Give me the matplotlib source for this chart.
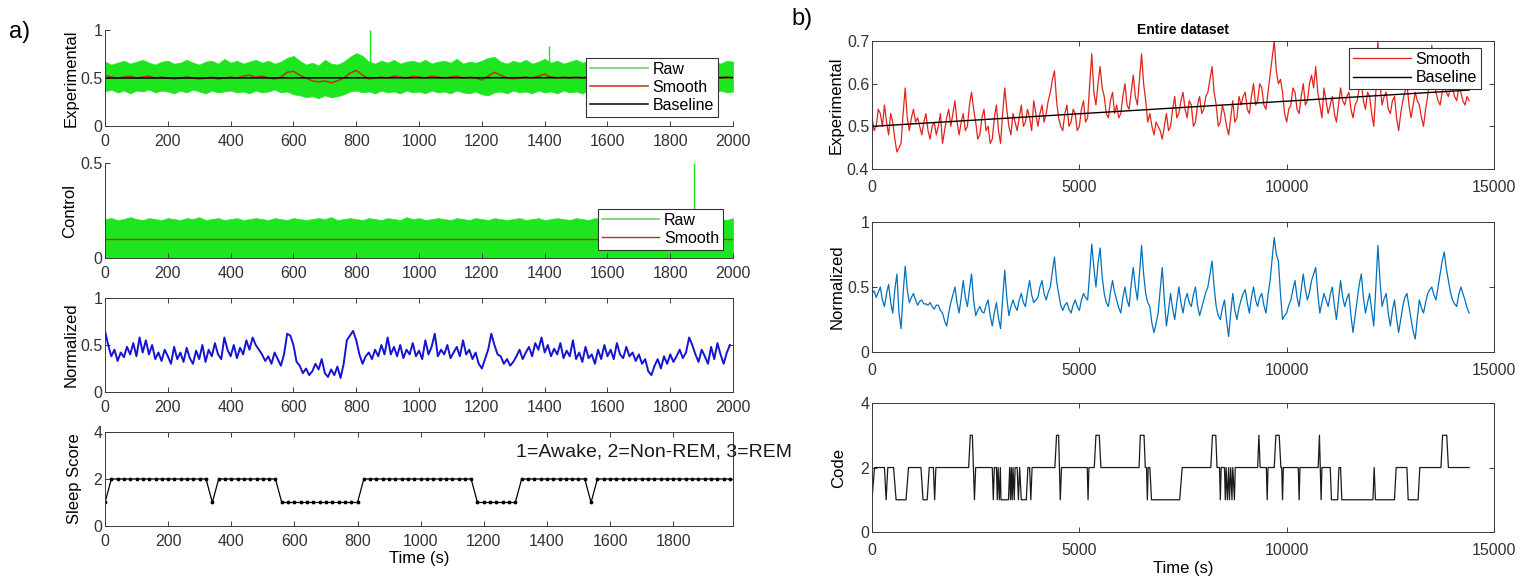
import numpy as np
import matplotlib.pyplot as plt

plt.rcParams['font.family'] = ['Liberation Sans', 'DejaVu Sans']
plt.rcParams['font.size'] = 11.5

# ---------------- panel a: 2000 s window ----------------
a_t = np.arange(0, 2001, 20)          # envelope / smooth sample times (s)

exp_raw_hi = [
    0.67, 0.64, 0.66, 0.68, 0.65, 0.67, 0.69, 0.66, 0.64, 0.67,
    0.68, 0.65, 0.66, 0.69, 0.66, 0.64, 0.67, 0.68, 0.65, 0.70,
    0.66, 0.68, 0.65, 0.67, 0.69, 0.66, 0.68, 0.65, 0.67, 0.71,
    0.73, 0.68, 0.64, 0.66, 0.63, 0.69, 0.65, 0.64, 0.67, 0.72,
    0.76, 0.73, 0.67, 0.65, 0.68, 0.66, 0.69, 0.65, 0.67, 0.68,
    0.66, 0.69, 0.65, 0.67, 0.68, 0.66, 0.70, 0.65, 0.67, 0.66,
    0.68, 0.71, 0.72, 0.67, 0.65, 0.68, 0.66, 0.69, 0.65, 0.67,
    0.70, 0.66, 0.68, 0.65, 0.67, 0.69, 0.66, 0.68, 0.65, 0.67,
    0.68, 0.66, 0.69, 0.65, 0.67, 0.68, 0.66, 0.69, 0.65, 0.67,
    0.66, 0.69, 0.67, 0.65, 0.68, 0.66, 0.69, 0.67, 0.65, 0.68,
    0.67,
]
exp_raw_lo = [
    0.36, 0.38, 0.35, 0.37, 0.34, 0.37, 0.36, 0.38, 0.35, 0.37,
    0.36, 0.34, 0.37, 0.35, 0.38, 0.36, 0.34, 0.37, 0.35, 0.36,
    0.37, 0.35, 0.36, 0.34, 0.37, 0.35, 0.36, 0.38, 0.35, 0.36,
    0.33, 0.32, 0.30, 0.31, 0.29, 0.32, 0.30, 0.31, 0.33, 0.36,
    0.37, 0.35, 0.36, 0.34, 0.37, 0.35, 0.36, 0.34, 0.37, 0.35,
    0.36, 0.34, 0.37, 0.35, 0.36, 0.34, 0.37, 0.35, 0.34, 0.36,
    0.33, 0.32, 0.35, 0.36, 0.34, 0.37, 0.35, 0.36, 0.34, 0.37,
    0.35, 0.36, 0.34, 0.37, 0.35, 0.36, 0.34, 0.37, 0.35, 0.36,
    0.34, 0.37, 0.35, 0.36, 0.34, 0.37, 0.35, 0.36, 0.34, 0.35,
    0.37, 0.35, 0.36, 0.34, 0.37, 0.35, 0.36, 0.34, 0.37, 0.35,
    0.36,
]
exp_smooth = [
    0.53, 0.51, 0.50, 0.51, 0.52, 0.50, 0.51, 0.52, 0.50, 0.51,
    0.50, 0.49, 0.50, 0.51, 0.50, 0.49, 0.50, 0.51, 0.49, 0.50,
    0.51, 0.50, 0.52, 0.53, 0.51, 0.52, 0.50, 0.49, 0.51, 0.56,
    0.57, 0.53, 0.50, 0.47, 0.46, 0.47, 0.45, 0.47, 0.50, 0.55,
    0.58, 0.53, 0.49, 0.50, 0.51, 0.50, 0.52, 0.51, 0.50, 0.52,
    0.51, 0.50, 0.52, 0.51, 0.50, 0.51, 0.52, 0.50, 0.51, 0.50,
    0.48, 0.52, 0.56, 0.53, 0.50, 0.49, 0.50, 0.51, 0.50, 0.52,
    0.54, 0.51, 0.50, 0.51, 0.50, 0.51, 0.50, 0.51, 0.50, 0.50,
    0.51, 0.50, 0.51, 0.50, 0.51, 0.50, 0.50, 0.51, 0.50, 0.51,
    0.50, 0.51, 0.50, 0.50, 0.51, 0.50, 0.51, 0.50, 0.50, 0.51,
    0.50,
]
exp_spike_t = [845, 1415]
exp_spike_v = [1.0, 0.83]
exp_base_t = [0, 2000]
exp_base_v = [0.500, 0.505]

ctl_raw_hi = [
    0.205, 0.21, 0.20, 0.205, 0.215, 0.205, 0.20, 0.21, 0.205, 0.20,
    0.21, 0.205, 0.20, 0.21, 0.205, 0.215, 0.20, 0.205, 0.21, 0.20,
    0.205, 0.21, 0.20, 0.205, 0.21, 0.205, 0.20, 0.21, 0.205, 0.20,
    0.21, 0.205, 0.20, 0.205, 0.21, 0.205, 0.215, 0.20, 0.205, 0.21,
    0.205, 0.20, 0.21, 0.205, 0.20, 0.21, 0.205, 0.20, 0.215, 0.205,
    0.21, 0.20, 0.205, 0.21, 0.205, 0.20, 0.21, 0.205, 0.20, 0.21,
    0.205, 0.20, 0.21, 0.205, 0.20, 0.205, 0.21, 0.20, 0.205, 0.21,
    0.20, 0.205, 0.21, 0.205, 0.20, 0.21, 0.205, 0.20, 0.21, 0.205,
    0.20, 0.21, 0.205, 0.20, 0.205, 0.21, 0.20, 0.205, 0.21, 0.205,
    0.20, 0.21, 0.205, 0.20, 0.21, 0.205, 0.20, 0.21, 0.205, 0.20,
    0.21,
]
ctl_smooth = [0.10] * 101
ctl_spike_t = [1875]
ctl_spike_v = [0.50]

norm_t = np.arange(0, 2000, 10)
norm_a = [
    0.65, 0.50, 0.38, 0.45, 0.33, 0.42, 0.37, 0.48, 0.40, 0.52,
    0.38, 0.58, 0.42, 0.55, 0.40, 0.50, 0.35, 0.42, 0.33, 0.45,
    0.38, 0.30, 0.48, 0.35, 0.42, 0.32, 0.47, 0.36, 0.30, 0.44,
    0.35, 0.50, 0.32, 0.45, 0.38, 0.52, 0.40, 0.35, 0.58, 0.45,
    0.38, 0.50, 0.36, 0.47, 0.40, 0.55, 0.45, 0.58, 0.50, 0.45,
    0.40, 0.33, 0.38, 0.30, 0.42, 0.35, 0.28, 0.40, 0.62, 0.60,
    0.50, 0.32, 0.28, 0.20, 0.25, 0.18, 0.22, 0.30, 0.24, 0.35,
    0.20, 0.16, 0.24, 0.18, 0.27, 0.15, 0.30, 0.55, 0.60, 0.65,
    0.55, 0.40, 0.30, 0.38, 0.42, 0.35, 0.45, 0.38, 0.50, 0.40,
    0.58, 0.40, 0.48, 0.38, 0.50, 0.36, 0.45, 0.40, 0.52, 0.38,
    0.44, 0.35, 0.55, 0.40, 0.48, 0.62, 0.38, 0.45, 0.40, 0.50,
    0.36, 0.42, 0.48, 0.38, 0.55, 0.40, 0.45, 0.35, 0.42, 0.30,
    0.25, 0.35, 0.45, 0.62, 0.50, 0.40, 0.38, 0.30, 0.35, 0.28,
    0.32, 0.38, 0.45, 0.35, 0.42, 0.48, 0.38, 0.52, 0.45, 0.58,
    0.42, 0.50, 0.38, 0.46, 0.40, 0.52, 0.36, 0.44, 0.38, 0.55,
    0.35, 0.42, 0.32, 0.48, 0.36, 0.40, 0.30, 0.45, 0.35, 0.50,
    0.38, 0.45, 0.35, 0.52, 0.40, 0.36, 0.48, 0.38, 0.42, 0.33,
    0.40, 0.30, 0.35, 0.22, 0.18, 0.28, 0.35, 0.25, 0.38, 0.30,
    0.40, 0.32, 0.38, 0.45, 0.36, 0.42, 0.58, 0.50, 0.40, 0.32,
    0.45, 0.38, 0.30, 0.48, 0.35, 0.52, 0.40, 0.30, 0.42, 0.50,
]

sleep_t = np.arange(0, 2000, 20)
sleep_score = (
    [1] + [2] * 16 + [1] + [2] * 10 + [1] * 13 +
    [2] * 18 + [1] * 7 + [2] * 11 + [1] + [2] * 22
)

# ---------------- panel b: entire dataset ----------------
b_t = np.arange(0, 14401, 50)
exp_b = [
    0.52, 0.49, 0.50, 0.54, 0.53, 0.50, 0.55, 0.51, 0.48, 0.53, 0.51, 0.47, 0.44, 0.45, 0.46, 0.53, 0.59, 0.52, 0.49, 0.52,
    0.54, 0.51, 0.52, 0.50, 0.48, 0.51, 0.53, 0.49, 0.47, 0.50, 0.51, 0.48, 0.50, 0.53, 0.46, 0.49, 0.52, 0.54, 0.50, 0.53,
    0.56, 0.51, 0.48, 0.51, 0.53, 0.49, 0.50, 0.55, 0.58, 0.54, 0.51, 0.47, 0.48, 0.52, 0.54, 0.49, 0.50, 0.46, 0.47, 0.52,
    0.55, 0.49, 0.46, 0.53, 0.59, 0.54, 0.50, 0.48, 0.53, 0.51, 0.49, 0.52, 0.55, 0.50, 0.51, 0.54, 0.52, 0.49, 0.56, 0.53,
    0.50, 0.53, 0.55, 0.51, 0.53, 0.56, 0.58, 0.61, 0.63, 0.56, 0.52, 0.50, 0.49, 0.53, 0.55, 0.50, 0.51, 0.54, 0.53, 0.49,
    0.50, 0.54, 0.56, 0.51, 0.52, 0.60, 0.67, 0.58, 0.55, 0.60, 0.64, 0.59, 0.57, 0.53, 0.52, 0.56, 0.58, 0.53, 0.55, 0.52,
    0.53, 0.57, 0.60, 0.55, 0.54, 0.58, 0.62, 0.57, 0.55, 0.61, 0.67, 0.60, 0.56, 0.51, 0.53, 0.50, 0.48, 0.51, 0.50, 0.49,
    0.47, 0.50, 0.53, 0.49, 0.50, 0.54, 0.57, 0.52, 0.53, 0.56, 0.58, 0.54, 0.52, 0.56, 0.55, 0.50, 0.51, 0.55, 0.57, 0.53,
    0.54, 0.57, 0.58, 0.61, 0.64, 0.58, 0.55, 0.50, 0.51, 0.55, 0.53, 0.50, 0.48, 0.52, 0.56, 0.51, 0.52, 0.57, 0.55, 0.57,
    0.58, 0.54, 0.53, 0.57, 0.60, 0.55, 0.56, 0.60, 0.59, 0.55, 0.54, 0.58, 0.62, 0.66, 0.70, 0.63, 0.60, 0.61, 0.58, 0.53,
    0.51, 0.54, 0.55, 0.59, 0.58, 0.54, 0.53, 0.57, 0.60, 0.55, 0.56, 0.60, 0.62, 0.59, 0.64, 0.58, 0.55, 0.52, 0.59, 0.56,
    0.53, 0.55, 0.57, 0.53, 0.51, 0.55, 0.59, 0.56, 0.55, 0.57, 0.58, 0.54, 0.52, 0.55, 0.56, 0.59, 0.60, 0.56, 0.54, 0.58,
    0.57, 0.53, 0.50, 0.58, 0.70, 0.60, 0.55, 0.57, 0.58, 0.54, 0.53, 0.56, 0.57, 0.52, 0.49, 0.53, 0.56, 0.58, 0.60, 0.55,
    0.52, 0.55, 0.58, 0.56, 0.55, 0.52, 0.50, 0.54, 0.57, 0.62, 0.69, 0.61, 0.58, 0.56, 0.55, 0.58, 0.60, 0.58, 0.57, 0.59,
    0.59, 0.57, 0.56, 0.59, 0.58, 0.56, 0.55, 0.57, 0.56,
]
base_b_t = [0, 14400]
base_b_v = [0.500, 0.585]

norm_b = [
    0.45, 0.47, 0.42, 0.46, 0.50, 0.40, 0.35, 0.45, 0.52, 0.38, 0.30, 0.48, 0.60, 0.30, 0.18, 0.45, 0.66, 0.48, 0.38, 0.42,
    0.45, 0.40, 0.36, 0.39, 0.40, 0.37, 0.37, 0.36, 0.38, 0.35, 0.33, 0.36, 0.36, 0.32, 0.30, 0.24, 0.20, 0.30, 0.38, 0.44,
    0.50, 0.38, 0.30, 0.42, 0.55, 0.42, 0.35, 0.48, 0.60, 0.40, 0.28, 0.32, 0.35, 0.31, 0.30, 0.36, 0.40, 0.28, 0.20, 0.30,
    0.38, 0.26, 0.18, 0.40, 0.63, 0.42, 0.28, 0.35, 0.40, 0.35, 0.32, 0.40, 0.45, 0.38, 0.35, 0.46, 0.55, 0.44, 0.38, 0.40,
    0.42, 0.50, 0.55, 0.45, 0.40, 0.46, 0.50, 0.62, 0.73, 0.55, 0.45, 0.36, 0.32, 0.36, 0.38, 0.33, 0.30, 0.36, 0.40, 0.35,
    0.32, 0.40, 0.45, 0.42, 0.40, 0.62, 0.83, 0.65, 0.50, 0.68, 0.80, 0.58, 0.45, 0.38, 0.35, 0.46, 0.55, 0.46, 0.40, 0.34,
    0.30, 0.42, 0.50, 0.40, 0.35, 0.52, 0.65, 0.50, 0.40, 0.60, 0.82, 0.60, 0.45, 0.38, 0.35, 0.22, 0.15, 0.22, 0.30, 0.48,
    0.65, 0.40, 0.20, 0.32, 0.45, 0.33, 0.25, 0.38, 0.50, 0.38, 0.30, 0.40, 0.45, 0.38, 0.35, 0.44, 0.50, 0.36, 0.28, 0.34,
    0.40, 0.46, 0.50, 0.60, 0.70, 0.50, 0.35, 0.28, 0.25, 0.34, 0.40, 0.24, 0.12, 0.30, 0.45, 0.32, 0.25, 0.34, 0.40, 0.45,
    0.48, 0.38, 0.30, 0.42, 0.50, 0.40, 0.35, 0.42, 0.45, 0.36, 0.30, 0.44, 0.55, 0.72, 0.88, 0.75, 0.70, 0.45, 0.25, 0.28,
    0.30, 0.36, 0.40, 0.48, 0.55, 0.42, 0.35, 0.48, 0.60, 0.48, 0.40, 0.46, 0.55, 0.60, 0.65, 0.45, 0.30, 0.38, 0.45, 0.40,
    0.35, 0.44, 0.50, 0.36, 0.25, 0.40, 0.55, 0.42, 0.35, 0.41, 0.45, 0.28, 0.15, 0.28, 0.40, 0.52, 0.60, 0.42, 0.30, 0.38,
    0.45, 0.32, 0.20, 0.50, 0.82, 0.55, 0.35, 0.41, 0.45, 0.30, 0.20, 0.32, 0.40, 0.26, 0.15, 0.25, 0.35, 0.42, 0.45, 0.35,
    0.25, 0.16, 0.10, 0.26, 0.40, 0.34, 0.30, 0.38, 0.45, 0.48, 0.50, 0.44, 0.40, 0.50, 0.60, 0.70, 0.77, 0.64, 0.55, 0.46,
    0.40, 0.37, 0.35, 0.44, 0.50, 0.45, 0.40, 0.34, 0.30,
]

code_t = [0, 60, 300, 340, 380, 520, 580, 820, 880, 1180, 1230, 1330, 1380,
          1480, 1510, 1540, 2330, 2370, 2420, 2470, 2500, 2900, 2925, 2950,
          3000, 3020, 3040, 3070, 3095, 3110, 3290, 3320, 3340, 3360, 3380,
          3400, 3430, 3450, 3500, 3530, 3560, 3600, 3720, 3760, 3800, 3830,
          3860, 4410, 4450, 4500, 4540, 4570, 5190, 5210, 5230, 5360, 5400,
          5480, 5520, 6440, 6470, 6560, 6590, 6620, 6640, 6660, 6700, 6740,
          7420, 7480, 8170, 8210, 8290, 8320, 8380, 8400, 8420, 8500, 8520,
          8540, 8570, 8600, 8620, 8650, 8680, 8700, 8740, 8760, 9300, 9330,
          9360, 9510, 9530, 9550, 9700, 9740, 9820, 9860, 9880, 9900, 9920,
          10280, 10300, 10320, 10760, 10790, 10830, 10850, 11050, 11080,
          11230, 11260, 11300, 11330, 12080, 12110, 12140, 12600, 12640,
          12900, 12930, 13170, 13210, 13720, 13760, 13860, 13900, 14400]
code_v = [1, 2, 2, 1, 2, 2, 1, 1, 2, 2, 1, 1, 2,
          2, 1, 2, 2, 3, 3, 1, 2, 2, 1, 2,
          2, 1, 2, 1, 2, 1, 1, 2, 1, 2, 1,
          2, 1, 2, 2, 1, 2, 1, 1, 2, 2, 1,
          2, 2, 3, 3, 1, 2, 2, 1, 2, 2, 3,
          3, 2, 2, 3, 3, 2, 2, 1, 2, 2, 1,
          1, 2, 2, 3, 3, 2, 2, 1, 2, 2, 1,
          2, 1, 2, 1, 2, 1, 2, 1, 2, 2, 3,
          2, 2, 1, 2, 2, 3, 3, 2, 2, 1, 2,
          2, 1, 2, 2, 3, 1, 2, 2, 1,
          1, 2, 2, 1, 1, 2, 1, 1, 2,
          2, 1, 1, 2, 2, 3, 3, 2, 2]

GREEN = '#1ee61e'
RED_A = '#c0301e'
RED_B = '#e3231a'
BLUE_A = '#1414d2'
BLUE_B = '#0072bd'
AX_C = '#3a3a3a'
TICK_FS = 11.5
LABEL_FS = 12


def style(ax, box, xpad):
    for side in ('top', 'right'):
        ax.spines[side].set_visible(box)
    for sp in ax.spines.values():
        sp.set_color(AX_C)
        sp.set_linewidth(0.7)
    ax.tick_params(direction='in', length=3.5, width=0.7, color=AX_C,
                   labelcolor='#333333', labelsize=TICK_FS, pad=2,
                   top=box, right=box)
    ax.tick_params(axis='x', pad=xpad)


def leg(ax, **kw):
    lg = ax.legend(fancybox=False, framealpha=1, edgecolor='#333333',
                   fontsize=11.5, handlelength=3.6, borderpad=0.25,
                   labelspacing=0.2, handletextpad=0.3, borderaxespad=0, **kw)
    lg.get_frame().set_linewidth(0.8)
    return lg


fig = plt.figure(figsize=(15.2, 5.81), dpi=100)

# a) Experimental
ax = fig.add_axes([0.0691, 0.7831, 0.4132, 0.1652])
ax.fill_between(a_t, exp_raw_lo, exp_raw_hi, color=GREEN, lw=0.5)
ax.vlines(exp_spike_t, 0.6, exp_spike_v, color=GREEN, lw=1.0)
ax.plot([], [], color='#6fcf6f', lw=1.2, label='Raw')
ax.plot(a_t, exp_smooth, color=RED_A, lw=1.1, label='Smooth')
ax.plot(exp_base_t, exp_base_v, color='black', lw=1.1, label='Baseline')
ax.set_xlim(0, 2000)
ax.set_ylim(0, 1)
ax.set_xticks(range(0, 2001, 200))
ax.set_yticks([0, 0.5, 1])
ax.set_yticklabels(['0', '0.5', '1'])
ax.set_ylabel('Experimental', fontsize=LABEL_FS, labelpad=1)
style(ax, False, 6)
leg(ax, loc='lower right', bbox_to_anchor=(0.976, 0.094))

# a) Control
ax = fig.add_axes([0.0691, 0.5559, 0.4132, 0.1635])
ax.fill_between(a_t, 0, ctl_raw_hi, color=GREEN, lw=0.5)
ax.vlines(ctl_spike_t, 0.2, ctl_spike_v, color=GREEN, lw=1.0)
ax.plot([], [], color='#6fcf6f', lw=1.2, label='Raw')
ax.plot(a_t, ctl_smooth, color=RED_A, lw=1.0, label='Smooth')
ax.set_xlim(0, 2000)
ax.set_ylim(0, 0.5)
ax.set_xticks(range(0, 2001, 200))
ax.set_yticks([0, 0.5])
ax.set_yticklabels(['0', '0.5'])
ax.set_ylabel('Control', fontsize=LABEL_FS, labelpad=2)
style(ax, False, 6)
leg(ax, loc='lower right', bbox_to_anchor=(0.984, 0.084))

# a) Normalized
ax = fig.add_axes([0.0691, 0.3253, 0.4132, 0.1618])
ax.plot(norm_t, norm_a, color=BLUE_A, lw=1.4)
ax.set_xlim(0, 2000)
ax.set_ylim(0, 1)
ax.set_xticks(range(0, 2001, 200))
ax.set_yticks([0, 0.5, 1])
ax.set_yticklabels(['0', '0.5', '1'])
ax.set_ylabel('Normalized', fontsize=LABEL_FS, labelpad=1)
style(ax, True, 6)

# a) Sleep score
ax = fig.add_axes([0.0691, 0.0947, 0.4132, 0.1618])
ax.plot(sleep_t, sleep_score, color='black', lw=0.9, marker='.', ms=3.5)
ax.set_xlim(0, 1990)
ax.set_ylim(0, 4)
ax.set_xticks(range(0, 1801, 200))
ax.set_yticks([0, 2, 4])
ax.set_ylabel('Sleep Score', fontsize=LABEL_FS, labelpad=8)
ax.set_xlabel('Time (s)', fontsize=LABEL_FS, labelpad=1)
ax.text(1302, 3.15, '1=Awake, 2=Non-REM, 3=REM', fontsize=14,
        color='#1a1a1a', va='center', ha='left', clip_on=False)
style(ax, True, 6)

# b) Experimental, whole recording
ax = fig.add_axes([0.5737, 0.7091, 0.4092, 0.2203])
ax.plot(b_t, exp_b, color=RED_B, lw=0.9, label='Smooth')
ax.plot(base_b_t, base_b_v, color='black', lw=1.0, label='Baseline')
ax.set_xlim(0, 15000)
ax.set_ylim(0.4, 0.7)
ax.set_xticks([0, 5000, 10000, 15000])
ax.set_yticks([0.4, 0.5, 0.6, 0.7])
ax.set_ylabel('Experimental', fontsize=LABEL_FS, labelpad=2)
ax.set_title('Entire dataset', fontsize=10, fontweight='bold', pad=5)
style(ax, True, 8)
leg(ax, loc='upper right', bbox_to_anchor=(0.979, 0.945))

# b) Normalized
ax = fig.add_axes([0.5737, 0.3941, 0.4092, 0.2238])
ax.plot(b_t, norm_b, color=BLUE_B, lw=0.9)
ax.set_xlim(0, 15000)
ax.set_ylim(0, 1)
ax.set_xticks([0, 5000, 10000, 15000])
ax.set_yticks([0, 0.5, 1])
ax.set_yticklabels(['0', '0.5', '1'])
ax.set_ylabel('Normalized', fontsize=LABEL_FS, labelpad=2)
style(ax, True, 8)

# b) Sleep code
ax = fig.add_axes([0.5737, 0.0843, 0.4092, 0.2220])
ax.plot(code_t, code_v, color='#1a1a1a', lw=0.9)
ax.set_xlim(0, 15000)
ax.set_ylim(0, 4)
ax.set_xticks([0, 5000, 10000, 15000])
ax.set_yticks([0, 2, 4])
ax.set_ylabel('Code', fontsize=LABEL_FS, labelpad=10)
ax.set_xlabel('Time (s)', fontsize=LABEL_FS, labelpad=2)
style(ax, True, 8)

fig.text(0.006, 0.945, 'a)', fontsize=17, va='center')
fig.text(0.521, 0.968, 'b)', fontsize=17, va='center')

fig.savefig('out.png', dpi=100)
